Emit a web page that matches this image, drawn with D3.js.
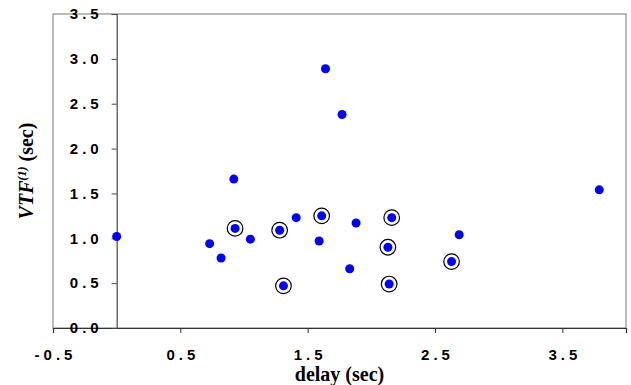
<!DOCTYPE html>
<html>
<head>
<meta charset="utf-8">
<script src="https://cdn.jsdelivr.net/npm/d3@7"></script>
<style>
  body { margin: 0; background: #fff; }
  .tick text { font-family: "Liberation Sans", Arial, sans-serif; font-weight: bold; font-size: 15px; letter-spacing: 4px; fill: #000; }
  .axis-title { font-family: "Liberation Serif", "Times New Roman", serif; font-weight: bold; fill: #000; }
</style>
</head>
<body>
<svg id="chart" width="631" height="385"></svg>
<script>
// delay (sec) vs VTF(1) (sec); marked points carry an extra black ring
const delay = [0.0, 0.92, 0.93, 0.73, 0.82, 1.05, 1.28, 1.31, 1.41, 1.61, 1.59,
               1.88, 1.83, 2.16, 2.13, 2.14, 2.69, 2.63, 1.64, 1.77, 3.79];
const vtf = [1.02, 1.66, 1.11, 0.94, 0.78, 0.99, 1.09, 0.47, 1.23, 1.25, 0.97,
             1.17, 0.66, 1.23, 0.90, 0.49, 1.04, 0.74, 2.89, 2.38, 1.54];
const marked = [false, false, true, false, false, false, true, true, false, true, false,
                false, false, true, true, true, false, true, false, false, false];
const xTicks = [-0.5, 0.5, 1.5, 2.5, 3.5];
const yTicks = [0, 0.5, 1, 1.5, 2, 2.5, 3, 3.5];

const svg = d3.select("#chart");
const margin = { top: 14, right: 5, bottom: 57, left: 53 };
const width = 631 - margin.left - margin.right;
const height = 385 - margin.top - margin.bottom;

const g = svg.append("g").attr("transform", `translate(${margin.left}, ${margin.top})`);

const x = d3.scaleLinear().domain([-0.5, 4.0]).range([0, width]);
const y = d3.scaleLinear().domain([0, 3.5]).range([height, 0]);
// plain hyphen for negatives, as in the original
const fmt = (d) => d.toFixed(1);

// grey frame
g.append("rect")
  .attr("x", 0).attr("y", 0)
  .attr("width", width).attr("height", height)
  .attr("fill", "none")
  .attr("stroke", "#8c8c8c")
  .attr("stroke-width", 1.2);

// x axis along y = 0
const xAxis = g.append("g")
  .attr("transform", `translate(0, ${y(0)})`)
  .call(d3.axisBottom(x).tickValues(xTicks).tickSize(5).tickPadding(16).tickFormat(fmt));
xAxis.select(".domain").attr("stroke", "#333").attr("stroke-width", 1.2);
xAxis.selectAll(".tick line").attr("stroke", "#333");
xAxis.selectAll(".tick text").attr("dx", "2px");

// y axis along x = 0
const yAxis = g.append("g")
  .attr("transform", `translate(${x(0)}, 0)`)
  .call(d3.axisLeft(y).tickValues(yTicks).tickSize(5).tickPadding(9).tickFormat(fmt));
yAxis.select(".domain").attr("stroke", "#444").attr("stroke-width", 1.2);
yAxis.selectAll(".tick line").attr("stroke", "#444");

const data = delay.map((d, i) => ({ delay: d, vtf: vtf[i], marked: marked[i] }));

g.selectAll("circle.ring")
  .data(data.filter((d) => d.marked))
  .enter().append("circle")
  .attr("class", "ring")
  .attr("cx", (d) => x(d.delay))
  .attr("cy", (d) => y(d.vtf))
  .attr("r", 7.8)
  .attr("fill", "none")
  .attr("stroke", "#000")
  .attr("stroke-width", 1.2);

g.selectAll("circle.dot")
  .data(data)
  .enter().append("circle")
  .attr("class", "dot")
  .attr("cx", (d) => x(d.delay))
  .attr("cy", (d) => y(d.vtf))
  .attr("r", 4.5)
  .attr("fill", "#0000ff");

// axis titles
svg.append("text")
  .attr("class", "axis-title")
  .attr("x", margin.left + width / 2)
  .attr("y", 381)
  .attr("text-anchor", "middle")
  .attr("font-size", 20)
  .text("delay (sec)");

const yTitle = svg.append("text")
  .attr("class", "axis-title")
  .attr("transform", `translate(33, ${margin.top + height / 2}) rotate(-90)`)
  .attr("text-anchor", "middle")
  .attr("font-size", 20);
yTitle.append("tspan").attr("font-style", "italic").text("VTF");
yTitle.append("tspan").attr("font-style", "italic").attr("font-size", 12)
  .attr("dy", "-0.6em").text("(1)");
yTitle.append("tspan").attr("dy", "0.35em").text(" (sec)");
</script>
</body>
</html>
